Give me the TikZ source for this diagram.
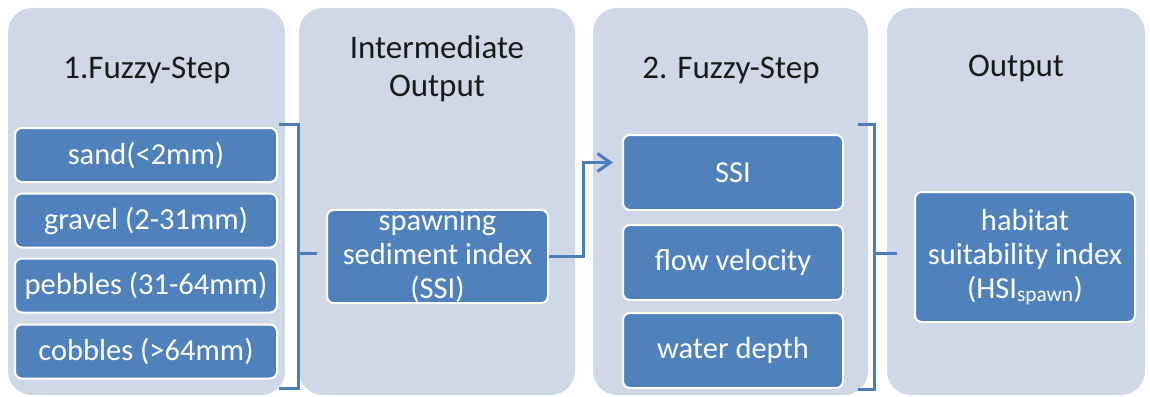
\documentclass[tikz,border=0pt]{standalone}
\usepackage{fontspec}
\setmainfont{Carlito}
\usetikzlibrary{arrows.meta}
\definecolor{panelfill}{HTML}{D0D8E8}
\definecolor{boxblue}{HTML}{4F81BD}
\definecolor{lineblue}{HTML}{4A7EBB}
\tikzset{
  panel/.style={fill=panelfill, rounded corners=24pt},
  title/.style={align=center, text=black!90, font=\fontsize{33}{38}\selectfont},
  item/.style={draw=white, line width=2pt, fill=boxblue, rounded corners=7pt, text=white,
    align=center, inner sep=0pt, font=\fontsize{30.5}{34}\selectfont},
  link/.style={draw=lineblue, line width=3pt}
}
\begin{document}
\begin{tikzpicture}[x=1pt,y=-1pt]
\useasboundingbox (0,0) rectangle (1150,396);
% columns
\fill[panel] (8,8) rectangle (285,395);
\fill[panel] (299,8) rectangle (575,395);
\fill[panel] (593,8) rectangle (868,395);
\fill[panel] (887,8) rectangle (1145,395);
\node[title] (t1) at (147,70) {1.Fuzzy-Step};
\node[title] (t2) at (437,69) {Intermediate\\Output};
\node[title] (t3) at (731,70) {2. Fuzzy-Step};
\node[title] (t4) at (1016,68) {Output};
% first step inputs
\node[item, minimum width=262pt, minimum height=54pt] (sand) at (146,155) {sand(<2mm)};
\node[item, minimum width=262pt, minimum height=54pt] (gravel) at (146,220.5) {gravel (2-31mm)};
\node[item, minimum width=262pt, minimum height=54pt] (pebbles) at (146,285.5) {pebbles (31-64mm)};
\node[item, minimum width=262pt, minimum height=54pt] (cobbles) at (146,351.5) {cobbles (>64mm)};
% intermediate output
\node[item, minimum width=221pt, minimum height=93pt] (ssi) at (437.5,256.5) {spawning\\sediment index\\(SSI)};
% second step inputs
\node[item, minimum width=220pt, minimum height=75pt] (ssi2) at (733,172.5) {SSI};
\node[item, minimum width=220pt, minimum height=75pt] (flow) at (733,262.5) {flow velocity};
\node[item, minimum width=220pt, minimum height=75pt] (depth) at (733,350.5) {water depth};
% output
\node[item, minimum width=220pt, minimum height=130pt] (hsi) at (1025,257) {habitat\\suitability index\\(HSI\textsubscript{spawn})};
% brackets and arrow
\coordinate (b1) at (298,253);
\coordinate (b2) at (874,253);
\draw[link] (279,124) -- (298,124) -- (298,388) -- (279,388);
\draw[link] (b1) -- ([xshift=-9pt]ssi.west |- b1);
\draw[link, -{Straight Barb[length=13pt,width=18pt]}] (ssi.east) -- ++(34,0) |- ([xshift=-9pt,yshift=10pt]ssi2.west);
\draw[link] (858,124) -- (874,124) -- (874,389) -- (858,389);
\draw[link] (b2) -- ([xshift=-17pt]hsi.west |- b2);
\end{tikzpicture}
\end{document}
